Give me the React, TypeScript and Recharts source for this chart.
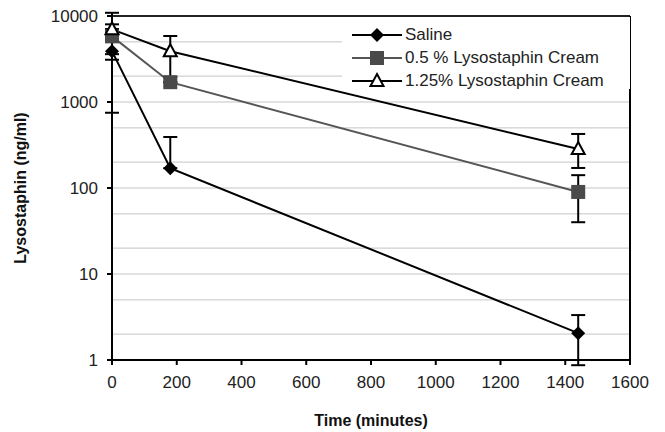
import { CartesianGrid, ErrorBar, Legend, Line, LineChart, ReferenceLine, XAxis, YAxis } from 'recharts'

// sampling times (minutes) and mean serum levels (ng/ml)
const TIMES = [0, 180, 1440]
const SALINE = [3900, 170, 2.05]
const SALINE_ERR = [[3150, 3150], [0, 222], [1.18, 1.28]]
const CREAM_05 = [5800, 1700, 90]
const CREAM_05_ERR = [[2200, 2200], [0, 0], [50, 51]]
const CREAM_125 = [7000, 3900, 284]
const CREAM_125_ERR = [[3900, 3900], [1950, 1950], [113, 141]]

const X_TICKS = [0, 200, 400, 600, 800, 1000, 1200, 1400, 1600]
const Y_TICKS = [1, 10, 100, 1000, 10000]
const MINOR_STEPS = [1, 2, 3, 4, 5, 6, 7, 8, 9]
const GRID_VALUES = [1, 10, 100, 1000].flatMap((d) => MINOR_STEPS.map((m) => d * m)).concat(10000)

const SERIES = [
  { key: 'saline', name: 'Saline', color: '#000', marker: 'diamond' },
  { key: 'cream05', name: '0.5 % Lysostaphin Cream', color: '#555', marker: 'square' },
  { key: 'cream125', name: '1.25% Lysostaphin Cream', color: '#000', marker: 'triangle' },
]

const data = TIMES.map((t, i) => ({
  t,
  saline: SALINE[i],
  salineErr: SALINE_ERR[i],
  cream05: CREAM_05[i],
  cream05Err: CREAM_05_ERR[i],
  cream125: CREAM_125[i],
  cream125Err: CREAM_125_ERR[i],
}))

const FONT = '"Liberation Sans", Arial, sans-serif'

function Marker({ kind, cx, cy }: { kind: string; cx: number; cy: number }) {
  if (kind === 'diamond') {
    const r = 7
    return <polygon points={`${cx},${cy - r} ${cx + r},${cy} ${cx},${cy + r} ${cx - r},${cy}`} fill="#000" />
  }
  if (kind === 'square') {
    return <rect x={cx - 7} y={cy - 7} width={14} height={14} fill="#4a4a4a" />
  }
  return (
    <polygon
      points={`${cx},${cy - 7} ${cx + 6.5},${cy + 5} ${cx - 6.5},${cy + 5}`}
      fill="#fff"
      stroke="#000"
      strokeWidth={2}
    />
  )
}

// white box: hides the grid behind the key, stops short of the data lines
function LegendBox() {
  return (
    <div style={{ background: '#fff', width: 288, height: 72, paddingTop: 6, boxSizing: 'border-box' }}>
      {SERIES.map((s) => (
        <div key={s.key} style={{ display: 'flex', alignItems: 'center', height: 23 }}>
          <svg width={60} height={20} style={{ marginLeft: 8 }}>
            <line x1={2} x2={52} y1={10} y2={10} stroke={s.color} strokeWidth={2} />
            <Marker kind={s.marker} cx={27} cy={10} />
          </svg>
          <span style={{ fontFamily: FONT, fontSize: 17, color: '#222', marginLeft: -5 }}>{s.name}</span>
        </div>
      ))}
    </div>
  )
}

export default function App() {
  return (
    <div style={{ position: 'absolute', left: 0, top: 0, background: '#fff' }}>
      <LineChart width={665} height={432} data={data} margin={{ top: 16, right: 35, bottom: 0, left: 0 }}>
        <YAxis yAxisId="grid" scale="log" domain={[1, 10000]} ticks={GRID_VALUES} hide allowDataOverflow />
        <CartesianGrid yAxisId="grid" vertical={false} stroke="#c4c4c4" />
        <XAxis
          dataKey="t"
          type="number"
          domain={[0, 1600]}
          ticks={X_TICKS}
          height={72}
          stroke="#000"
          strokeWidth={2}
          tickSize={5}
          tickMargin={11}
          tick={{ fill: '#222', fontSize: 17, fontFamily: FONT }}
          label={{ value: 'Time (minutes)', position: 'insideBottom', offset: 6, fontSize: 16, fontWeight: 'bold', fontFamily: FONT, fill: '#111' }}
        />
        <YAxis
          scale="log"
          domain={[1, 10000]}
          ticks={Y_TICKS}
          allowDataOverflow
          width={112}
          stroke="#000"
          strokeWidth={2}
          tickSize={5}
          tickMargin={9}
          tick={{ fill: '#222', fontSize: 17, fontFamily: FONT }}
          label={{ value: 'Lysostaphin (ng/ml)', angle: -90, position: 'insideLeft', offset: 20, fontSize: 16, fontWeight: 'bold', fontFamily: FONT, fill: '#111', style: { textAnchor: 'middle' } }}
        />
        <ReferenceLine y={10000} stroke="#222" strokeWidth={2} />
        <ReferenceLine x={1600} stroke="#000" strokeWidth={2} />
        <Legend
          layout="vertical"
          align="center"
          verticalAlign="middle"
          content={() => <LegendBox />}
          wrapperStyle={{ left: 342, top: 17, width: 288, height: 72 }}
        />
        {SERIES.map((s) => (
          <Line
            key={s.key}
            dataKey={s.key}
            name={s.name}
            stroke={s.color}
            strokeWidth={2}
            isAnimationActive={false}
            dot={(p: any) => <Marker key={`${s.key}-${p.index}`} kind={s.marker} cx={p.cx} cy={p.cy} />}
            activeDot={false}
          >
            <ErrorBar dataKey={`${s.key}Err`} direction="y" width={7} stroke="#000" strokeWidth={2} isAnimationActive={false} />
          </Line>
        ))}
      </LineChart>
    </div>
  )
}
